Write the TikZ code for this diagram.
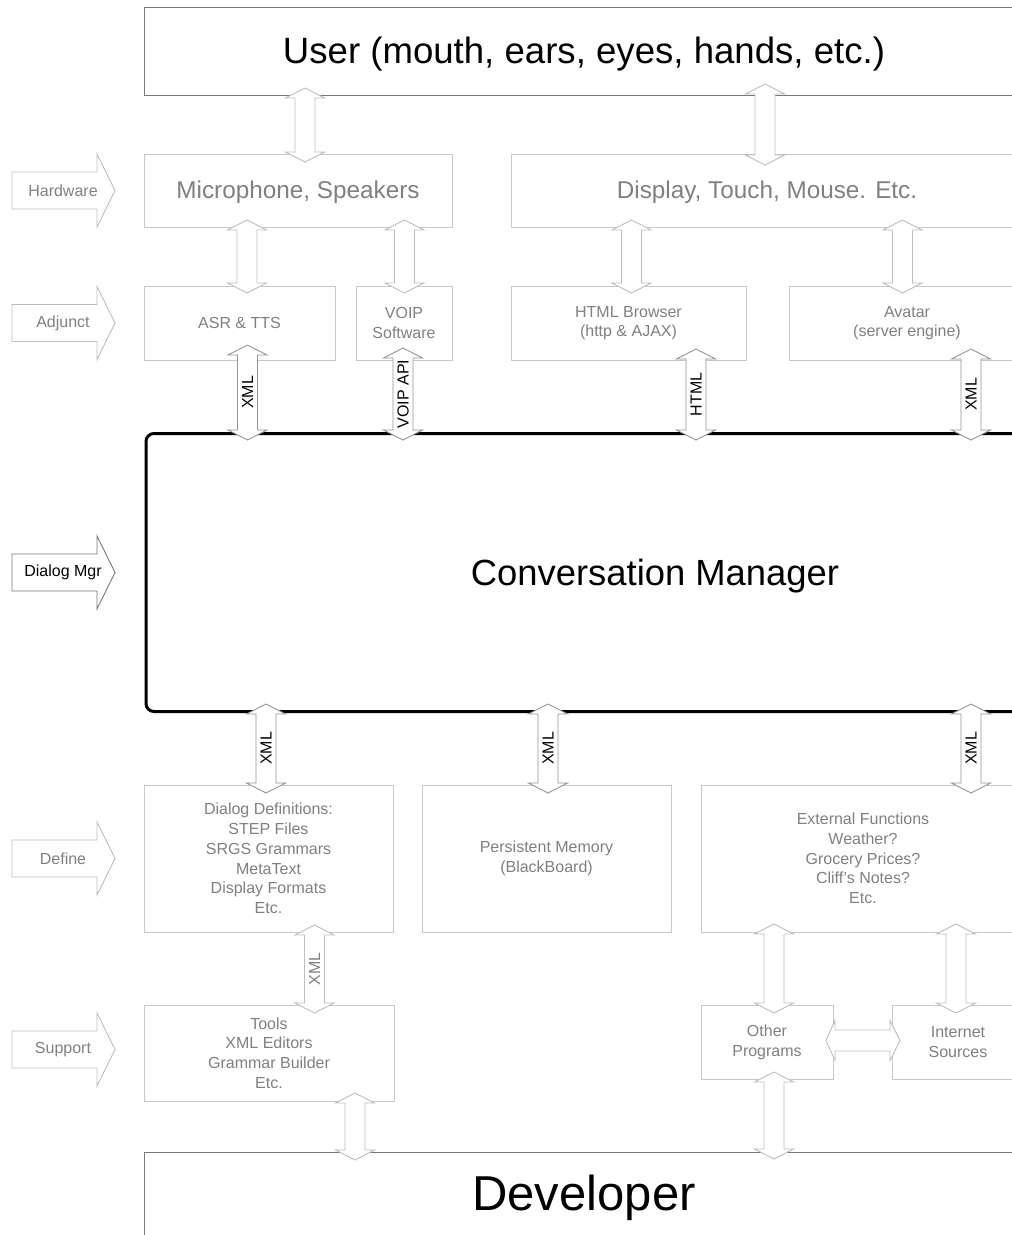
\documentclass[tikz,border=0pt]{standalone}
\usepackage{fontspec}
\setmainfont{Liberation Sans}
\usetikzlibrary{calc}
\definecolor{boxgray}{RGB}{200,200,200}
\definecolor{txtgray}{RGB}{128,128,128}
\definecolor{darkline}{RGB}{120,120,120}
\definecolor{arrgray}{RGB}{190,190,190}
\definecolor{arrdark}{RGB}{150,150,150}
\tikzset{
  box/.style={draw=boxgray, line width=1pt, text=txtgray, anchor=north west, inner sep=0pt, outer sep=0pt, font=\fontsize{16}{19.7}\selectfont},
  mbox/.style={box, align=center},
  bigtxt/.style={font=\fontsize{24.3}{29}\selectfont, text height=15.6pt, text depth=0pt},
  barrow/.style={fill=white, line width=0.9pt, line join=miter},
  sidearrow/.style={fill=white, line width=0.9pt},
  xmlk/.style={rotate=90, inner sep=0pt, text=black, font=\fontsize{16}{19}\selectfont},
  xmlg/.style={xmlk, text=txtgray},
}
% vertical double block arrow: [outline]{x}{top node}{overhang}{bottom node}{overhang}
\newcommand\vba[6][arrgray]{%
  \coordinate (vT) at ($(#2,0 |- #3.south)+(0,-#4)$);
  \coordinate (vB) at ($(#2,0 |- #5.north)+(0,#6)$);
  \draw[barrow,draw=#1] (vT) -- ++(19.5,10) -- ++(-9.5,0) -- ($(vB)+(10,-10)$) -- ++(9.5,0) -- (vB)
    -- ++(-19.5,-10) -- ++(9.5,0) -- ($(vT)+(-10,10)$) -- ++(-9.5,0) -- cycle;
}
% side label arrow: {name}{y}{text}{outline}{text colour}
\newcommand\sidearr[5]{%
  \draw[sidearrow,draw=#4] (12,{#2-18.5}) -- (97,{#2-18.5}) -- (97,{#2-36.5}) -- (115,#2)
    -- (97,{#2+36.5}) -- (97,{#2+18.5}) -- (12,{#2+18.5}) -- cycle;
  \node[inner sep=0pt, text=#5, font=\fontsize{16}{19}\selectfont] (#1) at (63,#2) {#3};
}
\begin{document}
\begin{tikzpicture}[x=1pt,y=-1pt]
\useasboundingbox (0,0) rectangle (1012,1235);
\fill[white] (0,0) rectangle (1012,1235);
\clip (0,0) rectangle (1012,1235);

% side labels
\sidearr{hw}{190.5}{Hardware}{arrgray}{txtgray}
\sidearr{adj}{323}{Adjunct}{arrgray}{txtgray}
\sidearr{dm}{572.5}{Dialog Mgr}{darkline}{black}
\sidearr{def}{858.5}{Define}{arrgray}{txtgray}
\sidearr{sup}{1049.5}{Support}{arrgray}{txtgray}

% boxes
\node[box, draw=darkline, text=black, minimum width=880pt, minimum height=88pt, font=\fontsize{36.6}{43}\selectfont, text height=24pt, text depth=0pt] (user) at (144,7) {User (mouth, ears, eyes, hands, etc.)};
\node[box, bigtxt, minimum width=308pt, minimum height=73pt] (mic) at (144,154) {Microphone, Speakers};
\node[box, bigtxt, minimum width=512pt, minimum height=73pt] (disp) at (511,154) {Display, Touch, Mouse. Etc.};
\node[mbox, minimum width=191pt, minimum height=74pt] (asr) at (144,286) {ASR \& TTS};
\node[mbox, minimum width=96pt, minimum height=74pt] (voip) at (356,286) {VOIP\\Software};
\node[mbox, minimum width=235pt, minimum height=74pt] (html) at (511,286) {HTML Browser\\(http \& AJAX)};
\node[mbox, minimum width=236pt, minimum height=74pt] (avatar) at (789,286) {Avatar\\(server engine)};
\node[box, draw=black, line width=3pt, rounded corners=8pt, text=black, minimum width=1018pt, minimum height=278pt, font=\fontsize{36.4}{43}\selectfont, text height=25pt, text depth=0pt] (cm) at (146,433.5) {Conversation Manager};
\node[mbox, minimum width=249pt, minimum height=147pt] (dd) at (144,785) {Dialog Definitions:\\STEP Files\\SRGS Grammars\\MetaText\\Display Formats\\Etc.};
\node[mbox, minimum width=249pt, minimum height=147pt] (pm) at (422,785) {Persistent Memory\\(BlackBoard)};
\node[mbox, minimum width=324pt, minimum height=147pt] (ext) at (701,785) {External Functions\\Weather?\\Grocery Prices?\\Cliff's Notes?\\Etc.};
\node[mbox, minimum width=250pt, minimum height=96pt] (tools) at (144,1005) {Tools\\XML Editors\\Grammar Builder\\Etc.};
\node[mbox, minimum width=132pt, minimum height=74pt] (other) at (701,1005) {Other\\Programs};
\node[mbox, minimum width=132pt, minimum height=74pt] (inet) at (892,1005) {Internet\\Sources};
\node[box, draw=darkline, text=black, minimum width=880pt, minimum height=86pt, font=\fontsize{49}{58}\selectfont, text height=30pt, text depth=0pt] (dev) at (144,1152) {Developer};

% connectors
\vba{305}{user}{7}{mic}{8}
\vba{765}{user}{11}{disp}{11}
\vba{247}{mic}{7}{asr}{7}
\vba{404.5}{mic}{7}{voip}{7}
\vba{631.5}{disp}{7}{html}{7}
\vba{902.5}{disp}{7}{avatar}{7}

\vba[arrdark]{247.5}{asr}{15}{cm}{6.5}
\node[xmlk] (l1) at ($(vT)!0.5!(vB)$) {XML};
\vba[arrdark]{403}{voip}{12}{cm}{6.5}
\node[xmlk] (l2) at ($(vT)!0.5!(vB)$) {VOIP API};
\vba[arrdark]{696}{html}{11}{cm}{6.5}
\node[xmlk] (l3) at ($(vT)!0.5!(vB)$) {HTML};
\vba[arrdark]{971}{avatar}{11}{cm}{6.5}
\node[xmlk] (l4) at ($(vT)!0.5!(vB)$) {XML};

\vba[arrdark]{266}{cm}{7.5}{dd}{8}
\node[xmlk] (l5) at ($(vT)!0.5!(vB)$) {XML};
\vba[arrdark]{548}{cm}{7.5}{pm}{8}
\node[xmlk] (l6) at ($(vT)!0.5!(vB)$) {XML};
\vba[arrdark]{971}{cm}{7.5}{ext}{8}
\node[xmlk] (l7) at ($(vT)!0.5!(vB)$) {XML};

\vba{314.5}{dd}{7}{tools}{8}
\node[xmlg] (l8) at ($(vT)!0.5!(vB)$) {XML};
\vba{355}{tools}{8}{dev}{8}
\vba{774}{ext}{8}{other}{8}
\vba{956}{ext}{8}{inet}{8}
\vba{774}{other}{7}{dev}{7}

% horizontal double arrow Other <-> Internet
\coordinate (hL) at ($(other.east |- 0,1040.5)+(-7,0)$);
\coordinate (hR) at ($(inet.west |- 0,1040.5)+(8,0)$);
\draw[barrow,draw=arrgray] (hL) -- ++(9,-20) -- ++(0,9.5) -- ($(hR)+(-10,-10.5)$) -- ++(0,-9.5) -- (hR)
  -- ++(-10,20) -- ++(0,-9.5) -- ($(hL)+(9,10.5)$) -- ++(0,9.5) -- cycle;
\end{tikzpicture}
\end{document}
